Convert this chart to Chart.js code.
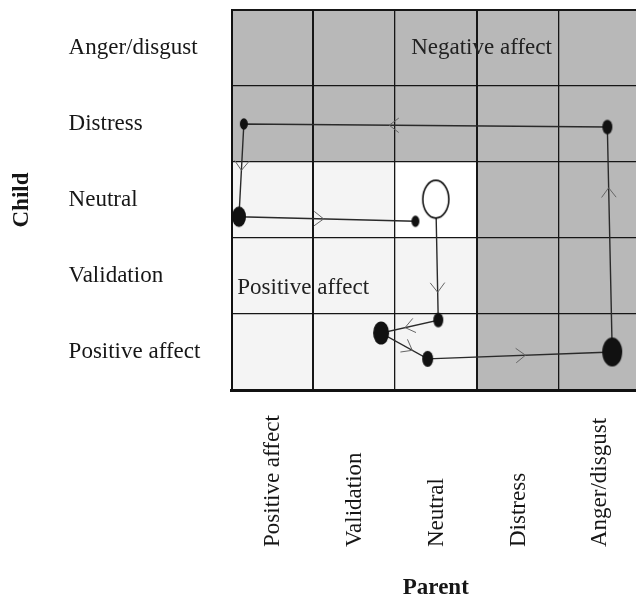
<!DOCTYPE html>
<html><head><meta charset="utf-8">
<script src="https://cdn.jsdelivr.net/npm/chart.js@4.4.1/dist/chart.umd.min.js"></script>
<style>
html,body{margin:0;padding:0;background:#fff;overflow:hidden;width:636px;height:600px}
#wrap{width:640px;height:600px}
</style></head>
<body><div id="wrap"><canvas id="c" width="640" height="600"></canvas></div>
<script>
// ---- data ----
const parentStates = ['Positive affect', 'Validation', 'Neutral', 'Distress', 'Anger/disgust'];
const childStates = ['Positive affect', 'Validation', 'Neutral', 'Distress', 'Anger/disgust']; // bottom → top
const negativeStates = ['Distress', 'Anger/disgust'];
const neutralState = 'Neutral';
// trajectory, in (parent index, child index) units
const trajParent = [2.00, 2.03, 1.33, 1.90, 4.16, 4.10, -0.35, -0.41, 1.75];
const trajChild  = [2.01, 0.42, 0.25, -0.09, 0.00, 2.96, 3.00, 1.78, 1.72];
const nodeDuration = [13, 5, 8, 5.5, 10, 5, 4, 7, 4];   // node size (duration)
const arrowAt = [0.77, 0.58, 0.67, 0.53, 0.73, 0.60, 0.50, 0.48];
const regionLabels = [
  {text: 'Negative affect', x: 2.56, y: 4.0, align: 'center'},
  {text: 'Positive affect', x: -0.43, y: 0.84, align: 'left'}
];
const xTitle = 'Parent';
const yTitle = 'Child';

const FONT = "'Liberation Serif', 'Times New Roman', serif";
const INK = '#161616';
const DARK = '#b8b8b8', LIGHT = '#f4f4f4', WHITE = '#ffffff';

function nodeImage(r, open) {
  const rx = r, ry = r * 1.45;
  const c = document.createElement('canvas');
  c.width = Math.ceil(2 * rx + 4); c.height = Math.ceil(2 * ry + 4);
  const g = c.getContext('2d');
  g.beginPath();
  g.ellipse(c.width / 2, c.height / 2, rx, ry, 0, 0, 2 * Math.PI);
  if (open) { g.fillStyle = '#fff'; g.fill(); g.lineWidth = 1.6; g.strokeStyle = '#111'; g.stroke(); }
  else { g.fillStyle = '#111'; g.fill(); }
  return c;
}
const nodeImages = nodeDuration.map((d, i) => nodeImage(d, i === 0));

const boundsOf = arr => arr.map((_, i) => i - 0.5).concat([arr.length - 0.5]);
const xBounds = boundsOf(parentStates);
const yBounds = boundsOf(childStates);

const shadePlugin = {
  id: 'shade',
  beforeDraw(chart) {
    const {ctx, scales: {x, y}} = chart;
    ctx.save();
    parentStates.forEach((p, ci) => {
      childStates.forEach((c, ri) => {
        let col = LIGHT;
        if (negativeStates.includes(p) || negativeStates.includes(c)) col = DARK;
        else if (p === neutralState && c === neutralState) col = WHITE;
        const x0 = x.getPixelForValue(ci - 0.5), x1 = x.getPixelForValue(ci + 0.5);
        const y0 = y.getPixelForValue(ri + 0.5), y1 = y.getPixelForValue(ri - 0.5);
        ctx.fillStyle = col;
        ctx.fillRect(x0, y0, x1 - x0, y1 - y0);
      });
    });
    ctx.restore();
  },
  beforeDatasetsDraw(chart) {
    const {ctx, scales: {x, y}} = chart;
    ctx.save();
    ctx.font = '23px ' + FONT;
    ctx.fillStyle = '#222';
    ctx.textBaseline = 'middle';
    regionLabels.forEach(l => {
      ctx.textAlign = l.align;
      ctx.fillText(l.text, x.getPixelForValue(l.x), y.getPixelForValue(l.y));
    });
    ctx.restore();
  },
  afterDatasetsDraw(chart) {
    const {ctx} = chart;
    const pts = chart.getDatasetMeta(0).data;
    ctx.save();
    ctx.strokeStyle = '#666';
    ctx.lineWidth = 1;
    const L = 12, a = 0.65;
    for (let i = 0; i < pts.length - 1; i++) {
      const p0 = pts[i], p1 = pts[i + 1];
      const f = arrowAt[i];
      const tx = p0.x + f * (p1.x - p0.x), ty = p0.y + f * (p1.y - p0.y);
      const ang = Math.atan2(p1.y - p0.y, p1.x - p0.x);
      ctx.beginPath();
      ctx.moveTo(tx - L * Math.cos(ang - a), ty - L * Math.sin(ang - a));
      ctx.lineTo(tx, ty);
      ctx.lineTo(tx - L * Math.cos(ang + a), ty - L * Math.sin(ang + a));
      ctx.stroke();
    }
    ctx.restore();
  },
  afterDraw(chart) {
    const {ctx, scales: {x}, chartArea} = chart;
    ctx.save();
    ctx.font = '23px ' + FONT;
    ctx.fillStyle = INK;
    ctx.textAlign = 'left';
    ctx.textBaseline = 'middle';
    parentStates.forEach((p, i) => {
      ctx.save();
      ctx.translate(x.getPixelForValue(i) + 1, chartArea.bottom + 157);
      ctx.rotate(-Math.PI / 2);
      ctx.fillText(p, 0, 0);
      ctx.restore();
    });
    ctx.restore();
  }
};

const xGridW = [2, 2, 1.3, 2, 1.3, 1.3];
const yGridW = [3, 1.3, 1.3, 1.3, 1.3, 2];

new Chart(document.getElementById('c'), {
  type: 'scatter',
  data: {
    datasets: [{
      data: trajParent.map((v, i) => ({x: v, y: trajChild[i]})),
      showLine: true,
      borderColor: '#2a2a2a',
      borderWidth: 1.4,
      tension: 0,
      pointStyle: ctx => nodeImages[ctx.dataIndex],
      pointRadius: 8,
      pointHoverRadius: 8,
      clip: false
    }]
  },
  options: {
    responsive: false,
    animation: false,
    devicePixelRatio: 1,
    layout: {autoPadding: false, padding: {top: 10, left: 0, right: 0, bottom: 0}},
    plugins: {
      legend: {display: false},
      tooltip: {enabled: false},
      title: {
        display: true, text: yTitle, position: 'left', fullSize: false,
        color: INK,
        font: {family: FONT, size: 23, weight: 'bold', lineHeight: 1.2},
        padding: {top: 8, bottom: 33}
      }
    },
    scales: {
      x: {
        type: 'linear', min: -0.5, max: 4.5,
        afterBuildTicks: s => { s.ticks = xBounds.map(v => ({value: v})); },
        afterFit: s => { s.height = 210; s.paddingLeft = 0; s.paddingRight = 0; },
        ticks: {display: false},
        grid: {color: '#161616', drawTicks: false, lineWidth: c => xGridW[c.index] ?? 1.3},
        border: {display: true, color: '#111', width: 3},
        title: {display: true, text: xTitle, color: INK,
          font: {family: FONT, size: 23, weight: 'bold', lineHeight: 1.0},
          padding: {top: 0, bottom: 0}}
      },
      y: {
        type: 'linear', min: -0.5, max: 4.5,
        afterBuildTicks: s => { s.ticks = yBounds.map(v => ({value: v})); },
        afterFit: s => { s.width = 163; s.paddingTop = 0; s.paddingBottom = 0; },
        ticks: {
          autoSkip: false, crossAlign: 'far', padding: 0, labelOffset: -38,
          color: INK, font: {family: FONT, size: 23},
          callback: v => childStates[Math.round(v + 0.5)] ?? ''
        },
        grid: {color: '#161616', drawTicks: false, lineWidth: c => yGridW[c.index] ?? 1.3},
        border: {display: true, color: '#111', width: 2}
      }
    }
  },
  plugins: [shadePlugin]
});
</script>
</body></html>
